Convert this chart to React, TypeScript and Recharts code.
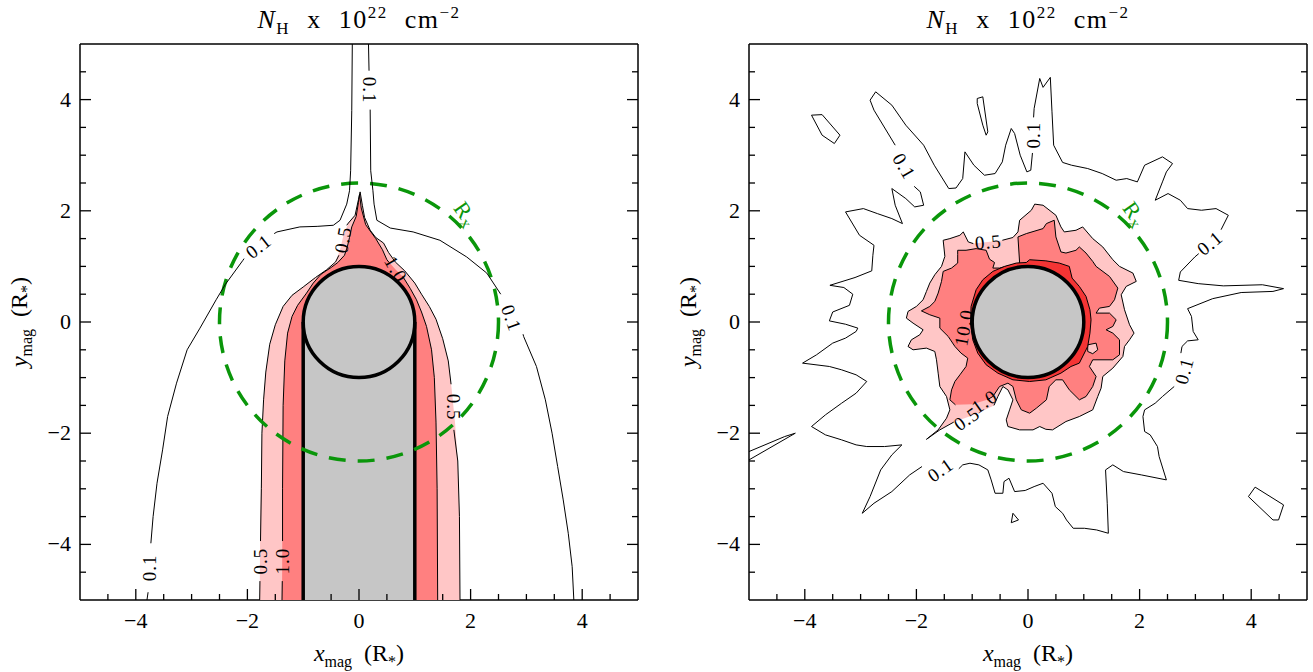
import React from 'react';
import { ScatterChart, Scatter, XAxis, YAxis } from 'recharts';

type P = [number, number];

const tickValues = [-4.5, -4, -3.5, -3, -2.5, -2, -1.5, -1, -0.5, 0, 0.5, 1, 1.5, 2, 2.5, 3, 3.5, 4, 4.5];
const labelledTicks = [-4, -2, 0, 2, 4];

// circles given as centre, point on x radius, point on y radius
const starCircle: P[] = [[0, 0], [1, 0], [0, 1]];
const rxCircle: P[] = [[0, 0], [2.5, 0], [0, 2.5]];

// ---------- left panel ----------
const leftShadow: P[] = [[-1, 0], [1, 0], [1, -5], [-1, -5]];
const leftShadowEdgeL: P[] = [[-1, 0], [-1, -5]];
const leftShadowEdgeR: P[] = [[1, 0], [1, -5]];

const leftPink: P[] = [
  [-1.78, -5], [-1.77, -3.5], [-1.74, -2.0], [-1.71, -1.4], [-1.67, -0.9], [-1.6, -0.4], [-1.5, -0.05],
  [-1.36, 0.28], [-1.2, 0.48], [-1.0, 0.63], [-0.78, 0.8], [-0.58, 0.94], [-0.42, 1.08], [-0.34, 1.3],
  [-0.28, 1.55], [-0.19, 1.78], [-0.07, 1.92], [-0.01, 2.2], [0.02, 2.34], [0.06, 2.1], [0.1, 1.88],
  [0.2, 1.65], [0.3, 1.52], [0.44, 1.42], [0.53, 1.25], [0.65, 1.08], [0.82, 0.92], [1.0, 0.7],
  [1.12, 0.5], [1.26, 0.28], [1.38, 0.05], [1.5, -0.3], [1.6, -0.7], [1.66, -1.2], [1.72, -1.8],
  [1.77, -2.5], [1.8, -3.5], [1.81, -5],
];
const leftPinkLines: P[][] = [
  [[-1.78, -5], [-1.775, -4.66]],
  [[-1.765, -3.94], [-1.75, -3.0], [-1.74, -2.0], [-1.71, -1.4], [-1.67, -0.9], [-1.6, -0.4], [-1.5, -0.05],
    [-1.36, 0.28], [-1.2, 0.48], [-1.0, 0.63], [-0.78, 0.8], [-0.58, 0.94], [-0.42, 1.08], [-0.36, 1.2]],
  [[-0.22, 1.74], [-0.19, 1.78], [-0.07, 1.92], [-0.01, 2.2], [0.02, 2.34], [0.06, 2.1], [0.1, 1.88],
    [0.2, 1.65], [0.3, 1.52], [0.44, 1.42], [0.53, 1.25], [0.65, 1.08], [0.82, 0.92], [1.0, 0.7],
    [1.12, 0.5], [1.26, 0.28], [1.38, 0.05], [1.5, -0.3], [1.6, -0.7], [1.65, -1.12]],
  [[1.7, -1.94], [1.77, -2.5], [1.8, -3.5], [1.81, -5]],
];
const leftRed: P[] = [
  [-1.38, -5], [-1.37, -3], [-1.36, -1.5], [-1.33, -0.7], [-1.28, -0.2], [-1.2, 0.1], [-1.1, 0.3],
  [-0.94, 0.52], [-0.82, 0.7], [-0.68, 0.86], [-0.5, 0.98], [-0.38, 1.07], [-0.26, 1.2], [-0.21, 1.35],
  [-0.17, 1.52], [-0.13, 1.71], [-0.05, 1.9], [-0.01, 2.15], [0.01, 2.3], [0.04, 2.05], [0.12, 1.75],
  [0.3, 1.5], [0.42, 1.3], [0.5, 1.12], [0.65, 0.95], [0.79, 0.81], [0.92, 0.6], [1.03, 0.4],
  [1.12, 0.18], [1.21, -0.08], [1.3, -0.5], [1.35, -1.0], [1.38, -1.8], [1.4, -3], [1.41, -5],
];
const leftRedLines: P[][] = [
  [[-1.38, -5], [-1.375, -4.66]],
  [[-1.37, -3.94], [-1.37, -3], [-1.36, -1.5], [-1.33, -0.7], [-1.28, -0.2], [-1.2, 0.1], [-1.1, 0.3],
    [-0.94, 0.52], [-0.82, 0.7], [-0.68, 0.86], [-0.5, 0.98], [-0.38, 1.07], [-0.26, 1.2], [-0.21, 1.35],
    [-0.17, 1.52], [-0.13, 1.71], [-0.05, 1.9], [-0.01, 2.15], [0.01, 2.3], [0.04, 2.05], [0.12, 1.75],
    [0.3, 1.5], [0.42, 1.3], [0.5, 1.12], [0.54, 1.07]],
  [[0.78, 0.82], [0.79, 0.81], [0.92, 0.6], [1.03, 0.4], [1.12, 0.18], [1.21, -0.08], [1.3, -0.5],
    [1.35, -1.0], [1.38, -1.8], [1.4, -3], [1.41, -5]],
];
const leftLowLines: P[][] = [
  [[-0.12, 5], [-0.13, 3.8], [-0.15, 2.72], [-0.17, 2.36], [-0.22, 2.12], [-0.34, 1.83], [-0.46, 1.74],
    [-0.75, 1.72], [-1.06, 1.71], [-1.47, 1.62], [-1.52, 1.59]],
  [[-2.06, 1.14], [-2.08, 1.11], [-2.4, 0.67], [-2.56, 0.4], [-2.85, -0.11], [-3.08, -0.5], [-3.27, -1.1],
    [-3.43, -1.7], [-3.52, -2.3], [-3.62, -2.9], [-3.69, -3.5], [-3.73, -3.98]],
  [[-3.78, -4.86], [-3.8, -5]],
  [[0.17, 5], [0.18, 4.52]],
  [[0.2, 3.82], [0.21, 2.72], [0.25, 2.36], [0.27, 2.12], [0.32, 1.83], [0.56, 1.69], [0.97, 1.62],
    [1.45, 1.47], [1.93, 1.17], [2.29, 0.88], [2.54, 0.5]],
  [[2.94, -0.22], [2.95, -0.26], [3.18, -0.8], [3.34, -1.4], [3.46, -2.0], [3.56, -2.6], [3.66, -3.2],
    [3.75, -3.8], [3.82, -4.4], [3.85, -5]],
];
const leftLabels = [
  { x: 0.19, y: 4.17, text: '0.1', angle: 90 },
  { x: -1.8, y: 1.36, text: '0.1', angle: -38 },
  { x: 2.73, y: 0.07, text: '0.1', angle: 70 },
  { x: -3.76, y: -4.42, text: '0.1', angle: -90 },
  { x: -1.76, y: -4.3, text: '0.5', angle: -90 },
  { x: -1.37, y: -4.3, text: '1.0', angle: -90 },
  { x: -0.29, y: 1.48, text: '0.5', angle: -80 },
  { x: 0.66, y: 0.95, text: '1.0', angle: 60 },
  { x: 1.69, y: -1.53, text: '0.5', angle: 90 },
];

// ---------- right panel ----------
const rightLowLines: P[][] = [
  [[-2.38, 3.18], [-2.76, 3.81], [-2.83, 3.99], [-2.73, 4.14], [-2.44, 3.9], [-2.19, 3.54], [-1.87, 3.18],
    [-1.68, 2.82], [-1.42, 2.4], [-1.29, 2.41], [-1.17, 2.58], [-1.13, 3.06], [-0.97, 2.82], [-0.78, 2.64],
    [-0.59, 2.67], [-0.46, 2.88], [-0.4, 3.18], [-0.3, 3.48], [-0.24, 3.39], [-0.14, 3.0], [-0.02, 2.7],
    [0.05, 2.73], [0.08, 3.04]],
  [[0.1, 3.68], [0.11, 3.84], [0.21, 4.38], [0.27, 4.22], [0.4, 4.4], [0.43, 3.78], [0.46, 3.18], [0.62, 2.87],
    [0.78, 2.82], [1.07, 2.76], [1.33, 2.67], [1.58, 2.55], [1.77, 2.58], [1.96, 2.52], [2.09, 2.82],
    [2.41, 2.97], [2.59, 2.85], [2.48, 2.7], [2.41, 2.52], [2.28, 2.19], [2.51, 2.31], [2.73, 2.19],
    [2.86, 2.04], [3.11, 2.01], [3.37, 2.04], [3.59, 1.92], [3.46, 1.66]],
  [[3.06, 1.23], [2.99, 1.17], [2.73, 0.9], [2.7, 0.75], [3.05, 0.69], [3.5, 0.65], [4.2, 0.67], [4.58, 0.6],
    [4.39, 0.55], [3.82, 0.53], [3.31, 0.42], [2.86, 0.24], [2.93, 0.1], [2.96, -0.17], [3.05, -0.32],
    [2.86, -0.34], [2.76, -0.44], [2.74, -0.56]],
  [[2.62, -1.16], [2.41, -1.34], [2.28, -1.46], [2.09, -1.58], [2.06, -1.7], [2.09, -1.97], [2.19, -2.03],
    [2.32, -2.24], [2.35, -2.42], [2.48, -2.84], [2.03, -2.75], [1.71, -2.69], [1.52, -2.57], [1.39, -2.66],
    [1.42, -3.26], [1.44, -3.8], [1.23, -3.74], [1.01, -3.71], [0.81, -3.71], [0.69, -3.56], [0.62, -3.44],
    [0.49, -3.32], [0.43, -3.08], [0.27, -2.9], [0.11, -2.96], [-0.05, -3.03], [-0.24, -3.05], [-0.34, -2.81],
    [-0.43, -2.87], [-0.45, -3.08], [-0.59, -3.08], [-0.66, -2.84], [-0.72, -2.66], [-0.88, -2.57],
    [-1.04, -2.54], [-1.17, -2.57], [-1.24, -2.64]],
  [[-1.9, -2.6], [-2.12, -2.75], [-2.44, -3.05], [-2.76, -3.26], [-2.97, -3.44], [-2.83, -3.14],
    [-2.64, -2.66], [-2.44, -2.39], [-2.26, -2.21], [-2.57, -2.24], [-2.89, -2.24], [-3.08, -2.21],
    [-3.34, -2.12], [-3.63, -2.03], [-3.88, -1.88], [-3.63, -1.67], [-3.34, -1.46], [-3.08, -1.28],
    [-2.89, -1.07], [-3.08, -0.95], [-3.34, -0.86], [-3.56, -0.8], [-4.04, -0.74], [-3.79, -0.59],
    [-3.5, -0.38], [-3.27, -0.29], [-3.08, -0.17], [-3.05, -0.11], [-3.27, -0.04], [-3.56, 0.02],
    [-3.5, 0.18], [-3.2, 0.3], [-3.14, 0.5], [-3.3, 0.62], [-3.55, 0.66], [-3.1, 0.8], [-2.8, 0.92],
    [-2.78, 1.2], [-2.76, 1.38], [-3.02, 1.56], [-3.27, 1.98], [-2.95, 2.04], [-2.7, 1.95], [-2.44, 1.86],
    [-2.25, 1.77], [-2.38, 2.1], [-2.44, 2.4], [-2.19, 2.22], [-2.03, 2.07], [-1.87, 2.1], [-1.93, 2.34],
    [-2.04, 2.44]],
  [[-5, -2.33], [-4.36, -2.06], [-4.17, -2.0], [-5, -2.48]],
];
const rightIslands: P[][] = [
  [[-3.88, 3.72], [-3.69, 3.73], [-3.37, 3.36], [-3.47, 3.21], [-3.69, 3.36]],
  [[-0.91, 4.02], [-0.81, 4.05], [-0.72, 3.42], [-0.75, 3.36], [-0.81, 3.54], [-0.91, 3.93]],
  [[-0.27, -3.44], [-0.17, -3.56], [-0.3, -3.61]],
  [[3.95, -3.14], [4.07, -2.97], [4.58, -3.29], [4.49, -3.56], [4.39, -3.56]],
];
const rightPinkUpper: P[] = [
  [-0.46, 1.47], [-0.27, 1.52], [-0.18, 1.62], [-0.15, 1.83], [0.06, 2.01], [0.12, 2.12], [0.27, 2.1],
  [0.5, 1.92], [0.59, 1.71], [0.65, 1.62], [0.86, 1.65], [0.98, 1.71], [1.16, 1.5], [1.34, 1.35],
  [1.52, 1.12], [1.64, 1.0], [1.88, 0.88], [1.94, 0.73], [1.76, 0.64], [1.67, 0.49], [1.73, 0.22],
  [1.82, -0.05], [1.9, -0.2], [1.82, -0.32], [1.73, -0.44], [1.7, -0.62], [1.52, -0.83], [1.34, -0.98],
  [1.31, -1.19], [1.25, -1.34], [1.16, -1.58], [0.92, -1.7], [0.68, -1.79], [0.44, -1.94], [0.32, -1.93],
  [0.21, -1.88], [0.09, -1.94], [-0.15, -1.94], [-0.36, -1.88], [-0.39, -1.76], [-0.33, -1.58],
  [-0.27, -1.4], [-0.36, -1.22], [-0.45, -1.16], [-0.54, -1.34], [-0.61, -1.5],
];
const rightPinkGapLow: P[] = [[-0.85, -1.62], [-1.05, -1.7]];
const rightPinkLower: P[] = [
  [-1.33, -1.8], [-1.58, -1.94], [-1.82, -2.11], [-1.61, -1.94], [-1.46, -1.73], [-1.4, -1.58],
  [-1.46, -1.34], [-1.58, -1.16], [-1.61, -0.92], [-1.64, -0.68], [-1.67, -0.53], [-1.82, -0.47],
  [-2.06, -0.5], [-2.15, -0.44], [-2.09, -0.32], [-1.94, -0.23], [-1.88, -0.14], [-2.06, -0.02],
  [-2.18, 0.07], [-2.15, 0.19], [-2.0, 0.28], [-1.88, 0.4], [-1.82, 0.55], [-1.76, 0.7], [-1.67, 0.85],
  [-1.55, 1.0], [-1.49, 1.18], [-1.52, 1.47], [-1.4, 1.5], [-1.22, 1.56], [-1.16, 1.62], [-1.07, 1.44],
  [-0.98, 1.41],
];
const rightPinkGapTop: P[] = [[-0.72, 1.44]];
const rightRedLine: P[] = [
  [-1.3, -1.49], [-1.4, -1.4], [-1.37, -1.22], [-1.31, -1.07], [-1.22, -0.95], [-1.11, -0.8], [-1.08, -0.65],
  [-1.2, -0.56], [-1.31, -0.44], [-1.43, -0.26], [-1.58, -0.11], [-1.58, 0.07], [-1.76, 0.13], [-1.91, 0.2],
  [-1.76, 0.28], [-1.67, 0.37], [-1.61, 0.52], [-1.55, 0.73], [-1.52, 0.91], [-1.37, 0.97], [-1.26, 1.06],
  [-1.26, 1.21], [-1.26, 1.29], [-1.11, 1.29], [-0.93, 1.32], [-0.75, 1.29], [-0.69, 1.13], [-0.6, 1.07],
  [-0.63, 0.97], [-0.51, 0.97], [-0.27, 1.03], [-0.15, 1.06], [-0.18, 1.53], [-0.03, 1.59], [0.27, 1.68],
  [0.33, 1.77], [0.47, 1.83], [0.5, 1.53], [0.59, 1.26], [0.68, 1.24], [0.86, 1.29], [0.92, 1.35],
  [1.04, 1.24], [1.16, 1.09], [1.22, 1.0], [1.46, 0.82], [1.61, 0.61], [1.55, 0.4], [1.46, 0.28],
  [1.28, 0.25], [1.22, 0.16], [1.46, 0.16], [1.58, 0.04], [1.52, -0.08], [1.4, -0.14], [1.52, -0.2],
  [1.64, -0.32], [1.64, -0.59], [1.52, -0.68], [1.16, -0.68], [1.1, -0.8], [1.22, -0.98], [1.16, -1.16],
  [1.04, -1.34], [0.92, -1.4], [0.74, -1.22], [0.62, -1.04], [0.5, -1.04], [0.38, -1.16], [0.33, -1.4],
  [0.15, -1.55], [0.03, -1.64], [-0.12, -1.58], [-0.21, -1.4], [-0.27, -1.16], [-0.36, -1.1], [-0.51, -1.16],
  [-0.63, -1.34], [-0.73, -1.4],
];
const rightRedGap: P[] = [[-1.0, -1.48]];
const rightPinkBlob: P[] = [[1.07, -0.41], [1.22, -0.38], [1.25, -0.5], [1.16, -0.57], [1.07, -0.53]];
const rightRing: P[] = [
  [0.03, 1.12], [0.32, 1.1], [0.56, 1.06], [0.74, 1.0], [0.79, 0.79], [0.92, 0.64], [1.04, 0.46],
  [1.11, 0.22], [1.13, 0.04], [1.11, -0.2], [1.07, -0.44], [0.92, -0.74], [0.77, -0.8], [0.59, -0.92],
  [0.32, -1.04], [0.03, -1.07], [-0.27, -1.04], [-0.54, -0.92], [-0.75, -0.77], [-0.9, -0.56],
  [-0.99, -0.32], [-1.03, -0.02], [-1.02, 0.28], [-0.93, 0.58], [-0.81, 0.76], [-0.63, 0.91],
  [-0.42, 1.0], [-0.21, 1.06], [-0.03, 1.07],
];
const rightLabels = [
  { x: -2.22, y: 2.8, text: '0.1', angle: 60 },
  { x: 0.1, y: 3.36, text: '0.1', angle: -90 },
  { x: 3.26, y: 1.42, text: '0.1', angle: -40 },
  { x: 2.8, y: -0.88, text: '0.1', angle: -75 },
  { x: -1.57, y: -2.66, text: '0.1', angle: -35 },
  { x: -0.71, y: 1.44, text: '0.5', angle: -5 },
  { x: -0.78, y: -1.43, text: '1.0', angle: -35 },
  { x: -1.1, y: -1.74, text: '0.5', angle: -35 },
  { x: -1.15, y: -0.1, text: '10.0', angle: -80 },
];
const rxLabel = [{ x: 1.92, y: 1.94, text: 'R', sub: 'x', angle: 55 }];

const PINK = '#ffc6c6';
const RED = '#ff8080';
const DARKRED = '#f53434';
const GRAY = '#c6c6c6';
const GREEN = '#0a960a';
const FONT = '"Liberation Serif", "DejaVu Serif", serif';

const xy = (a: P[]) => a.map(([x, y]) => ({ x, y }));
const noShape = () => <g />;

const pathLine = (fill: string, stroke: string, sw: number, closed: boolean) => (props: any) => {
  const pts = (props.points || []) as { x: number; y: number }[];
  const d = pts.map((p, i) => `${i ? 'L' : 'M'}${p.x.toFixed(2)},${p.y.toFixed(2)}`).join(' ') + (closed ? ' Z' : '');
  return <path d={d} fill={fill} stroke={stroke} strokeWidth={sw} strokeLinejoin="round" />;
};

const ellipseLine = (fill: string, stroke: string, sw: number, dash?: string) => (props: any) => {
  const [c, px, py] = props.points as { x: number; y: number }[];
  return (
    <ellipse cx={c.x} cy={c.y} rx={Math.abs(px.x - c.x)} ry={Math.abs(py.y - c.y)}
      fill={fill} stroke={stroke} strokeWidth={sw} strokeDasharray={dash} />
  );
};

const labelShape = (color: string, size: number) => (p: any) => {
  const { cx, cy, payload } = p;
  return (
    <text x={cx} y={cy} transform={`rotate(${payload.angle} ${cx} ${cy})`} textAnchor="middle"
      dominantBaseline="central" fontSize={size} fill={color} fontFamily={FONT} letterSpacing={1}>
      {payload.text}
      {payload.sub && <tspan fontSize={size * 0.75} dy={5}>{payload.sub}</tspan>}
    </text>
  );
};

const fmt = (v: number) => (v < 0 ? `\u2212${-v}` : `${v}`);
const tickLen = (v: number) => (labelledTicks.includes(v) ? 11 : 6);

const BottomTick = (p: any) => (
  <g>
    <line x1={p.x} y1={p.y} x2={p.x} y2={p.y - tickLen(p.payload.value)} stroke="#000" strokeWidth={1.3} />
    {labelledTicks.includes(p.payload.value) && (
      <text x={p.x} y={p.y + 28} textAnchor="middle" fontSize={22} fontFamily={FONT} fill="#000">
        {fmt(p.payload.value)}
      </text>
    )}
  </g>
);
const LeftTick = (p: any) => (
  <g>
    <line x1={p.x} y1={p.y} x2={p.x + tickLen(p.payload.value)} y2={p.y} stroke="#000" strokeWidth={1.3} />
    {labelledTicks.includes(p.payload.value) && (
      <text x={p.x - 9} y={p.y + 7} textAnchor="end" fontSize={22} fontFamily={FONT} fill="#000">
        {fmt(p.payload.value)}
      </text>
    )}
  </g>
);
const TopTick = (p: any) => (
  <line x1={p.x} y1={p.y} x2={p.x} y2={p.y + tickLen(p.payload.value)} stroke="#000" strokeWidth={1.3} />
);
const RightTick = (p: any) => (
  <line x1={p.x} y1={p.y} x2={p.x - tickLen(p.payload.value)} y2={p.y} stroke="#000" strokeWidth={1.3} />
);

const frame = { stroke: '#000', strokeWidth: 1.5 };

function Axes() {
  return [
    <XAxis key="xb" dataKey="x" type="number" domain={[-5, 5]} allowDataOverflow ticks={tickValues} interval={0}
      height={30} tickSize={0} tickMargin={0} tickLine={false} axisLine={frame} tick={(p: any) => <BottomTick {...p} />} />,
    <XAxis key="xt" xAxisId="t" orientation="top" type="number" domain={[-5, 5]} allowDataOverflow ticks={tickValues}
      interval={0} height={4} tickSize={0} tickMargin={0} tickLine={false} axisLine={frame} tick={(p: any) => <TopTick {...p} />} />,
    <YAxis key="yl" dataKey="y" type="number" domain={[-5, 5]} allowDataOverflow ticks={tickValues} interval={0}
      width={60} tickSize={0} tickMargin={0} tickLine={false} axisLine={frame} tick={(p: any) => <LeftTick {...p} />} />,
    <YAxis key="yr" yAxisId="r" orientation="right" type="number" domain={[-5, 5]} allowDataOverflow ticks={tickValues}
      interval={0} width={4} tickSize={0} tickMargin={0} tickLine={false} axisLine={frame} tick={(p: any) => <RightTick {...p} />} />,
  ];
}

const poly = (key: string, pts: P[], fill: string, stroke: string, sw: number, closed: boolean) => (
  <Scatter key={key} data={xy(pts)} line={pathLine(fill, stroke, sw, closed)} shape={noShape}
    isAnimationActive={false} legendType="none" />
);
const circ = (key: string, pts: P[], fill: string, stroke: string, sw: number, dash?: string) => (
  <Scatter key={key} data={xy(pts)} line={ellipseLine(fill, stroke, sw, dash)} shape={noShape}
    isAnimationActive={false} legendType="none" />
);
const labels = (key: string, data: any[], color: string, size: number) => (
  <Scatter key={key} data={data} shape={labelShape(color, size)} isAnimationActive={false} legendType="none" />
);

function LeftPanel() {
  return (
    <ScatterChart width={660} height={672} margin={{ top: 40, right: 18, bottom: 42, left: 20 }}>
      {Axes()}
      {poly('lp', leftPink, PINK, 'none', 0, true)}
      {poly('lr', leftRed, RED, 'none', 0, true)}
      {leftPinkLines.map((s, i) => poly(`lpl${i}`, s, 'none', '#000', 1, false))}
      {leftRedLines.map((s, i) => poly(`lrl${i}`, s, 'none', '#000', 1, false))}
      {poly('sh', leftShadow, GRAY, 'none', 0, true)}
      {circ('star', starCircle, GRAY, '#000', 3.5)}
      {poly('e1', leftShadowEdgeL, 'none', '#000', 3.5, false)}
      {poly('e2', leftShadowEdgeR, 'none', '#000', 3.5, false)}
      {circ('rx', rxCircle, 'none', GREEN, 3.5, '17 12')}
      {leftLowLines.map((s, i) => poly(`ll${i}`, s, 'none', '#000', 1, false))}
      {labels('lab', leftLabels, '#000', 19)}
      {labels('rxl', rxLabel, GREEN, 22)}
    </ScatterChart>
  );
}

function RightPanel() {
  return (
    <ScatterChart width={644} height={672} margin={{ top: 40, right: 2, bottom: 42, left: 20 }}>
      {Axes()}
      {rightLowLines.map((s, i) => poly(`rl${i}`, s, 'none', '#000', 1, false))}
      {rightIslands.map((s, i) => poly(`ri${i}`, s, 'none', '#000', 1, true))}
      {poly('rp', [...rightPinkUpper, ...rightPinkGapLow, ...rightPinkLower, ...rightPinkGapTop], PINK, 'none', 0, true)}
      {poly('rr', [...rightRedLine, ...rightRedGap], RED, 'none', 0, true)}
      {poly('rpl1', rightPinkUpper, 'none', '#000', 1, false)}
      {poly('rpl2', rightPinkLower, 'none', '#000', 1, false)}
      {poly('rrl', rightRedLine, 'none', '#000', 1, false)}
      {poly('blob', rightPinkBlob, PINK, '#000', 1, true)}
      {poly('ring', rightRing, DARKRED, '#000', 1, true)}
      {circ('star', starCircle, GRAY, '#000', 3.5)}
      {circ('rx', rxCircle, 'none', GREEN, 3.5, '17 12')}
      {labels('lab', rightLabels, '#000', 19)}
      {labels('rxl', rxLabel, GREEN, 22)}
    </ScatterChart>
  );
}

const textBase: React.CSSProperties = {
  position: 'absolute',
  fontFamily: FONT,
  color: '#000',
  whiteSpace: 'nowrap',
  lineHeight: 1,
};

function Title({ cx }: { cx: number }) {
  return (
    <div style={{ ...textBase, left: cx, top: 4, transform: 'translateX(-50%)', fontSize: 26, wordSpacing: 9, letterSpacing: 1.5 }}>
      <i>N</i><sub style={{ fontSize: 17 }}>H</sub> x 10<sup style={{ fontSize: 17 }}>22</sup> cm<sup style={{ fontSize: 17 }}>{'\u22122'}</sup>
    </div>
  );
}

function XTitle({ cx }: { cx: number }) {
  return (
    <div style={{ ...textBase, left: cx, top: 641, transform: 'translateX(-50%)', fontSize: 24, wordSpacing: 6 }}>
      <i>x</i><sub style={{ fontSize: 16 }}>mag</sub> (R<sub style={{ fontSize: 16 }}>*</sub>)
    </div>
  );
}

function YTitle({ cx }: { cx: number }) {
  return (
    <div style={{ ...textBase, left: cx, top: 322, transform: 'translate(-50%, -50%) rotate(-90deg)', fontSize: 24, wordSpacing: 6 }}>
      <i>y</i><sub style={{ fontSize: 16 }}>mag</sub> (R<sub style={{ fontSize: 16 }}>*</sub>)
    </div>
  );
}

export default function App() {
  return (
    <div style={{ position: 'absolute', left: 0, top: 0, width: 1313, height: 672, background: '#fff', overflow: 'hidden' }}>
      <div style={{ position: 'absolute', left: 0, top: 0 }}>
        <LeftPanel />
      </div>
      <div style={{ position: 'absolute', left: 669, top: 0 }}>
        <RightPanel />
      </div>
      <Title cx={359} />
      <Title cx={1028} />
      <XTitle cx={359} />
      <XTitle cx={1028} />
      <YTitle cx={21} />
      <YTitle cx={690} />
    </div>
  );
}
